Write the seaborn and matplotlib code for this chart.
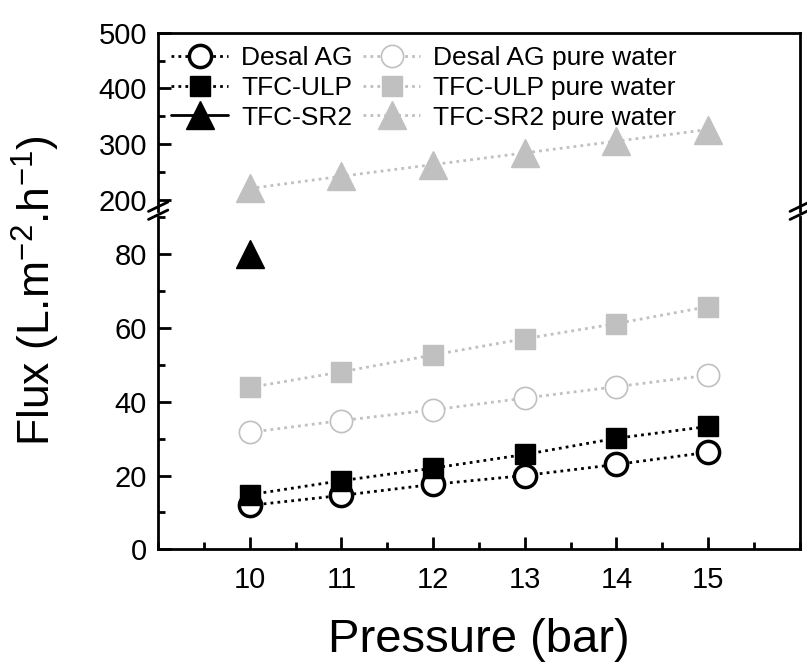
import matplotlib
matplotlib.use("Agg")
import pandas as pd
import seaborn as sns
from matplotlib import pyplot as plt
from matplotlib.ticker import MultipleLocator

pressure = [10, 11, 12, 13, 14, 15]
desal_ag = [11.9, 14.6, 17.6, 20.0, 23.0, 26.3]
tfc_ulp = [14.8, 18.6, 22.0, 25.7, 30.1, 33.3]
tfc_sr2_pressure = [10]
tfc_sr2 = [80.0]
desal_ag_pure = [31.7, 34.9, 37.8, 41.0, 44.1, 47.2]
tfc_ulp_pure = [43.9, 48.1, 52.7, 57.1, 61.2, 65.8]
tfc_sr2_pure = [220, 242, 263, 284, 305, 326]

GREY = "#c0c0c0"

sns.set_style("ticks")
plt.rcParams["font.family"] = ["Liberation Sans", "DejaVu Sans"]
plt.rcParams["mathtext.default"] = "regular"
plt.rcParams["text.color"] = "black"
plt.rcParams["axes.labelcolor"] = "black"
plt.rcParams["xtick.color"] = "black"
plt.rcParams["ytick.color"] = "black"

fig = plt.figure(figsize=(8.07, 6.69), dpi=100)
ax_top = fig.add_axes([0.196, 0.685, 0.795, 0.266])
ax_bot = fig.add_axes([0.196, 0.179, 0.795, 0.496])

series = [
    ("Desal AG", pressure, desal_ag, "o", "black", "white", 2.5, (1, 1.5)),
    ("TFC-ULP", pressure, tfc_ulp, "s", "black", "black", 1.0, (1, 1.5)),
    ("TFC-SR2", tfc_sr2_pressure, tfc_sr2, "^", "black", "black", 1.0, None),
    ("Desal AG pure water", pressure, desal_ag_pure, "o", GREY, "white", 1.2, (1, 1.5)),
    ("TFC-ULP pure water", pressure, tfc_ulp_pure, "s", GREY, GREY, 1.0, (1, 1.5)),
    ("TFC-SR2 pure water", pressure, tfc_sr2_pure, "^", GREY, GREY, 1.0, (1, 1.5)),
]
sizes = {"o": 16, "s": 15, "^": 20}

handles = []
for label, xs, ys, marker, color, face, mew, dash in series:
    df = pd.DataFrame({"x": xs, "y": ys})
    for ax in (ax_top, ax_bot):
        sns.lineplot(data=df, x="x", y="y", ax=ax, color=color, marker=marker,
                     markersize=sizes[marker], markerfacecolor=face,
                     markeredgecolor=color, markeredgewidth=mew, linewidth=2,
                     linestyle=":" if dash else "-", zorder=3)
        line = ax.lines[-1]
        if dash:
            line.set_dashes(dash)
    handles.append(ax_top.lines[-1])

for ax in (ax_top, ax_bot):
    ax.set_xlim(9, 16)
    ax.set_xlabel("")
    ax.set_ylabel("")
    for s in ax.spines.values():
        s.set_linewidth(2)
        s.set_color("black")
    ax.tick_params(which="major", direction="in", length=9, width=2, labelsize=21, pad=8)
    ax.tick_params(which="minor", direction="in", length=5, width=2)
    ax.xaxis.set_major_locator(MultipleLocator(1))
    ax.xaxis.set_minor_locator(MultipleLocator(0.5))

ax_top.set_ylim(180, 500)
ax_top.yaxis.set_major_locator(MultipleLocator(100))
ax_top.yaxis.set_minor_locator(MultipleLocator(50))
ax_top.spines["bottom"].set_visible(False)
ax_top.tick_params(axis="x", which="both", bottom=False, labelbottom=False)

ax_bot.set_ylim(0, 90)
ax_bot.yaxis.set_major_locator(MultipleLocator(20))
ax_bot.yaxis.set_minor_locator(MultipleLocator(10))
ax_bot.spines["top"].set_visible(False)
ax_bot.set_xticks(pressure)
ax_bot.xaxis.set_minor_locator(MultipleLocator(0.5))
ax_bot.set_xticklabels([str(p) for p in pressure])
ax_bot.tick_params(axis="x", pad=12)
ax_bot.set_xlabel("Pressure (bar)", fontsize=34, labelpad=17, color="black")

# break marks
for xpos in (0, 1):
    for dy in (0.0, 0.012):
        fig.add_artist(plt.Line2D([0.196 + xpos * 0.795 - 0.012, 0.196 + xpos * 0.795 + 0.012],
                                  [0.672 + dy, 0.686 + dy], color="black", lw=2,
                                  transform=fig.transFigure))

fig.text(0.045, 0.566, "Flux (L.m$^{-2}$.h$^{-1}$)", fontsize=32, ha="center", va="center",
         rotation=90, color="black")

ax_top.legend(handles=handles, labels=[s[0] for s in series], ncol=2, loc="upper left",
              frameon=False, fontsize=19, handlelength=2.15, handletextpad=0.5,
              columnspacing=0.4, labelspacing=0.22, borderaxespad=0.1,
              bbox_to_anchor=(0.0, 1.0))

fig.savefig("out.png", dpi=100)
